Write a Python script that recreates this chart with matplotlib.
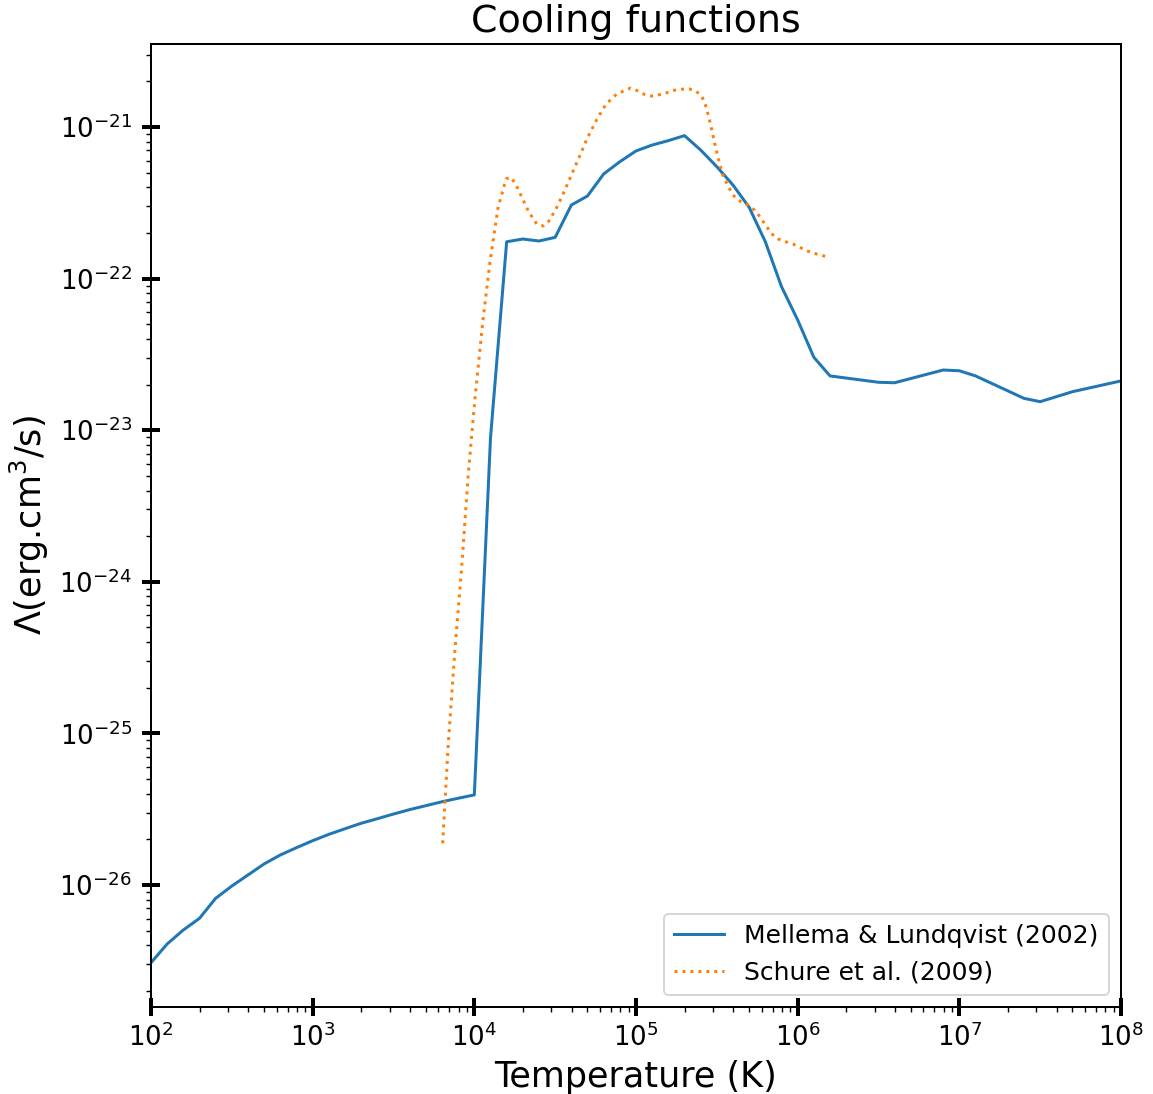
import numpy as np
import matplotlib
matplotlib.use("Agg")
import matplotlib.pyplot as plt

# Mellema & Lundqvist (2002): log10 T, log10 Lambda
ml_logT = [2.0, 2.1, 2.2, 2.3, 2.4, 2.5, 2.6, 2.7, 2.8, 2.9, 3.0, 3.1, 3.2, 3.3, 3.4,
           3.5, 3.6, 3.7, 3.8, 3.9, 4.0, 4.1, 4.2, 4.3, 4.4, 4.5, 4.6, 4.7, 4.8, 4.9,
           5.0, 5.1, 5.2, 5.3, 5.4, 5.5, 5.6, 5.7, 5.8, 5.9, 6.0, 6.1, 6.2, 6.5, 6.6,
           6.9, 7.0, 7.1, 7.4, 7.5, 7.7, 8.0]
ml_logL = [-26.513, -26.389, -26.297, -26.220, -26.088, -26.007, -25.934, -25.861,
           -25.802, -25.754, -25.708, -25.666, -25.629, -25.593, -25.563, -25.532,
           -25.503, -25.477, -25.451, -25.428, -25.406, -23.050, -21.757, -21.739,
           -21.752, -21.728, -21.515, -21.455, -21.310, -21.229, -21.158, -21.119,
           -21.090, -21.057, -21.152, -21.262, -21.383, -21.530, -21.757, -22.053,
           -22.273, -22.519, -22.642, -22.684, -22.687, -22.603, -22.608, -22.642,
           -22.790, -22.812, -22.746, -22.675]

# Schure et al. (2009): log10 T, log10 Lambda
sc_logT = [3.804, 3.839, 3.880, 3.922, 3.963, 4.004, 4.052, 4.097, 4.146, 4.196,
           4.225, 4.253, 4.295, 4.336, 4.386, 4.427, 4.458, 4.505, 4.548, 4.587,
           4.643, 4.699, 4.763, 4.814, 4.881, 4.967, 5.010, 5.056, 5.097, 5.144,
           5.190, 5.235, 5.283, 5.330, 5.371, 5.406, 5.427, 5.450, 5.472, 5.493,
           5.515, 5.540, 5.565, 5.586, 5.612, 5.649, 5.695, 5.732, 5.761, 5.815,
           5.843, 5.880, 5.926, 5.971, 6.014, 6.056, 6.101, 6.149, 6.192]
sc_logL = [-25.725, -25.065, -24.450, -23.900, -23.284, -22.790, -22.288, -21.888,
           -21.536, -21.343, -21.332, -21.371, -21.466, -21.559, -21.640, -21.653,
           -21.625, -21.541, -21.444, -21.350, -21.213, -21.073, -20.939, -20.850,
           -20.782, -20.743, -20.761, -20.787, -20.796, -20.787, -20.774, -20.758,
           -20.751, -20.749, -20.763, -20.796, -20.844, -20.932, -21.035, -21.137,
           -21.235, -21.328, -21.378, -21.422, -21.464, -21.493, -21.516, -21.547,
           -21.585, -21.668, -21.708, -21.739, -21.757, -21.772, -21.794, -21.816,
           -21.833, -21.846, -21.862]

labels = ["Mellema & Lundqvist (2002)", "Schure et al. (2009)"]

DPI = 144
fig = plt.figure(figsize=(1153 / DPI, 1094 / DPI), dpi=DPI)
ax = fig.add_axes([0.13096, 0.07952, 0.84129, 0.88026])

ax.plot(10 ** np.array(ml_logT), 10 ** np.array(ml_logL), '-', color='#1f77b4',
        lw=1.5, label=labels[0])
ax.plot(10 ** np.array(sc_logT), 10 ** np.array(sc_logL), ':', color='#ff7f0e',
        lw=1.5, label=labels[1])

ax.set_xscale('log')
ax.set_yscale('log')
ax.set_xlim(1e2, 1e8)
ax.set_ylim(10 ** -26.805, 10 ** -20.4525)

ax.set_title("Cooling functions", fontsize=19)
ax.set_xlabel("Temperature (K)", fontsize=17.5)
ax.set_ylabel(r"$\Lambda$(erg.cm$^3$/s)", fontsize=17.5)

ax.tick_params(which='major', direction='inout', length=9, width=2, labelsize=13)
ax.tick_params(axis='y', which='major', pad=5)
ax.tick_params(which='minor', direction='out', length=2.5, width=0.7)
for s in ax.spines.values():
    s.set_linewidth(1.0)

ax.legend(loc='lower right', fontsize=12.5)

fig.savefig("out.png", dpi=DPI)
